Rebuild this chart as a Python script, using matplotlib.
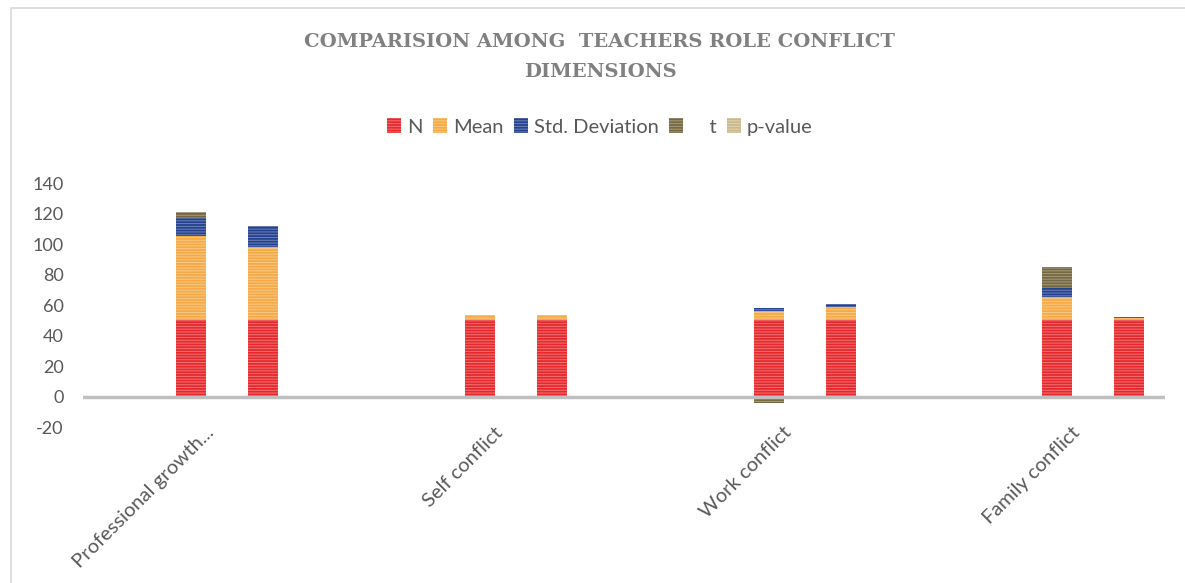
import matplotlib
matplotlib.use("Agg")
import matplotlib.pyplot as plt
from matplotlib.patches import Patch, Rectangle
from matplotlib.transforms import ScaledTranslation
import numpy as np

categories = ["Professional growth...", "Self conflict", "Work conflict", "Family conflict"]
series = ["N", "Mean", "Std. Deviation", "    t", "p-value"]

# group 1 (left bar) and group 2 (right bar) per category
N_1 = [50, 50, 50, 50]
N_2 = [50, 50, 50, 50]
Mean_1 = [55.5, 3.3, 6.5, 15.5]
Mean_2 = [48.2, 3.4, 8.7, 1.8]
Std_1 = [11.5, 0.3, 1.8, 6.5]
Std_2 = [14.0, 0.3, 1.8, 0.6]
t_1 = [4.5, 0.0, -4.0, 13.0]
t_2 = [0.0, 0.0, 0.0, 0.0]
p_1 = [0.0, 0.0, 0.0, 0.0]
p_2 = [0.0, 0.0, 0.0, 0.0]

colors = ["#e8282c", "#f6aa45", "#23418f", "#75683f", "#c9b98a"]

plt.rcParams["font.family"] = ["Lato", "DejaVu Sans"]
plt.rcParams["axes.unicode_minus"] = False
plt.rcParams["hatch.color"] = (1, 1, 1, 0.35)
plt.rcParams["hatch.linewidth"] = 0.7

W, H = 1185, 583
fig = plt.figure(figsize=(W / 100, H / 100), dpi=100)
fig.patches.append(Rectangle((11 / W, -0.05), 1.2, 1 - 8 / H + 0.05, transform=fig.transFigure,
                             fill=False, edgecolor="#d9d9d9", lw=1.2))

ax_l, ax_r = 83, 1165
ax_top, ax_bot = 183.3, 427.2
ax = fig.add_axes([ax_l / W, (H - ax_bot) / H, (ax_r - ax_l) / W, (ax_bot - ax_top) / H])

px_per_unit = 288.7
x0 = -0.5
ax.set_xlim(x0, x0 + (ax_r - ax_l) / px_per_unit)
ax.set_ylim(-20, 140)

x = np.arange(len(categories))
offset = 36 / px_per_unit
width = 30 / px_per_unit

groups = [
    (x - offset, [N_1, Mean_1, Std_1, t_1, p_1]),
    (x + offset, [N_2, Mean_2, Std_2, t_2, p_2]),
]
for xs, vals in groups:
    pos = np.zeros(len(categories))
    neg = np.zeros(len(categories))
    for s, (v, c) in enumerate(zip(vals, colors)):
        v = np.array(v, dtype=float)
        bottom = np.where(v >= 0, pos, neg)
        ax.bar(xs, v, width, bottom=bottom, color=c, hatch="------", linewidth=0, zorder=2)
        pos = pos + np.where(v >= 0, v, 0)
        neg = neg + np.where(v < 0, v, 0)

ax.axhline(0, color="#bfbfbf", lw=2.5, zorder=3)

for sp in ax.spines.values():
    sp.set_visible(False)
ax.set_yticks(np.arange(-20, 141, 20))
ax.tick_params(axis="y", length=0, pad=14, labelsize=13, labelcolor="#595959")
ax.set_xticks(x)
ax.set_xticklabels(categories, rotation=45, ha="right", va="center", rotation_mode="anchor")
ax.tick_params(axis="x", length=0, pad=2, labelsize=14.5, labelcolor="#595959")
shift = ScaledTranslation(-16 / 100, 0, fig.dpi_scale_trans)
for lab in ax.get_xticklabels():
    lab.set_transform(lab.get_transform() + shift)

fig.text(600 / W, 1 - 57 / H, "COMPARISION AMONG  TEACHERS ROLE CONFLICT\nDIMENSIONS",
         ha="center", va="center", fontsize=14, fontweight="bold", color="#808080",
         family="DejaVu Serif", linespacing=1.9)

handles = [Patch(facecolor=c, hatch="------", linewidth=0, label=l) for c, l in zip(colors, series)]
fig.legend(handles=handles, loc="center", bbox_to_anchor=(600 / W, 1 - 127 / H), ncol=5,
           frameon=False, fontsize=14.5, handlelength=0.7, handleheight=0.7, handletextpad=0.3,
           columnspacing=0.5, labelcolor="#595959")

fig.savefig("out.png", dpi=100)
